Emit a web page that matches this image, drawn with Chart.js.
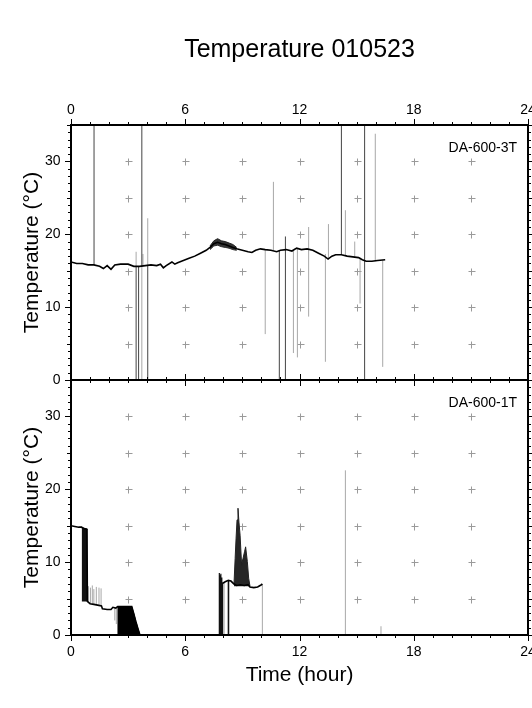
<!DOCTYPE html>
<html>
<head>
<meta charset="utf-8">
<script src="https://cdn.jsdelivr.net/npm/chart.js@4.4.1/dist/chart.umd.min.js"></script>
<style>
  html, body { margin: 0; padding: 0; background: #fff; }
  canvas { display: block; }
</style>
</head>
<body>
<canvas id="chartTemp" width="532" height="708"></canvas>
<script>
// DA-600-3T (upper panel): main trace, hours / degrees C
const topHours = [0, 0.3, 0.6, 0.9, 1.2, 1.5, 1.7, 1.9, 2.1, 2.3, 2.6, 3.0, 3.3, 3.6, 3.9, 4.2, 4.5, 4.7, 4.85, 5.0,
  5.3, 5.45, 5.6, 5.9, 6.2, 6.5, 6.8, 7.1, 7.3, 7.5, 7.7, 7.9, 8.1, 8.3, 8.5, 8.7,
  9.0, 9.3, 9.5, 9.7, 9.95, 10.2, 10.5, 10.8, 11.0, 11.3, 11.6, 11.85, 12.1, 12.4, 12.7, 13.0, 13.3, 13.5,
  13.7, 13.9, 14.2, 14.5, 14.8, 15.1, 15.3, 15.5, 15.8, 16.1, 16.5];
const topTemps = [16.2, 16.0, 16.0, 15.8, 15.8, 15.6, 15.3, 15.7, 15.2, 15.8, 15.9, 15.9, 15.6, 15.6, 15.7, 15.8, 15.7, 15.9, 15.4, 15.7,
  16.2, 15.9, 16.1, 16.4, 16.7, 17.0, 17.4, 17.8, 18.2, 18.7, 18.9, 18.7, 18.6, 18.4, 18.2, 18.0,
  17.8, 17.6, 17.5, 17.8, 18.0, 17.9, 17.8, 17.6, 17.8, 17.9, 17.7, 18.1, 17.9, 18.0, 17.8, 17.4, 17.0, 16.6,
  17.0, 17.2, 17.2, 17.0, 16.9, 16.8, 16.5, 16.3, 16.3, 16.4, 16.5];
// noisy stretch around the afternoon peak: upper / lower edge
const fuzzHours = [7.3, 7.5, 7.7, 7.9, 8.1, 8.3, 8.5, 8.7];
const fuzzUpper = [18.4, 19.1, 19.4, 19.1, 19.0, 18.8, 18.6, 18.2];
const fuzzLower = [17.9, 18.4, 18.5, 18.3, 18.2, 18.1, 17.9, 17.8];
// glitches: [hour, low, high]
const topSpikesDark = [[1.21, 15.8, 35], [3.42, 0, 15.6], [3.55, 0, 15.6], [3.72, 15.6, 35], [4.03, 0, 15.7],
  [10.94, 0, 17.8], [11.26, 0, 19.7], [14.2, 17.2, 35], [15.42, 0, 35]];
const topSpikesLight = [[3.42, 15.6, 17.6], [3.72, 0, 15.6], [3.78, 15.6, 17.3], [4.03, 15.7, 22.2], [10.2, 6.3, 17.9],
  [10.63, 17.8, 27.2], [11.68, 3.7, 17.8], [11.89, 3.1, 18.0], [12.48, 8.7, 21.0], [13.36, 2.5, 17.3],
  [13.52, 16.6, 21.4], [14.41, 17.1, 23.3], [14.9, 16.9, 19.0], [15.18, 10.5, 16.8], [15.98, 16.3, 33.8],
  [16.37, 1.8, 16.4]];

// DA-600-1T (lower panel)
const botHours = [0, 0.2, 0.4, 0.55, 0.7, 0.84, 0.86, 1.0, 1.2, 1.4, 1.6, 1.65, 1.9, 2.1, 2.2, 2.35, 2.45, 3.19, 3.3, 3.4,
  3.5, 3.62, 3.7, 7.97, 8.1, 8.26, 8.4, 8.56, 8.7, 8.9, 9.1, 9.3, 9.4, 9.6, 9.8, 10.0, 10.05];
const botTemps = [15.0, 14.9, 14.8, 14.8, 14.6, 14.5, 4.6, 4.3, 4.2, 4.1, 4.0, 3.6, 3.5, 3.5, 3.8, 3.7, 3.9, 3.9, 2.9, 1.9,
  1.0, 0, null, 7.1, 7.3, 7.5, 7.4, 7.0, 6.8, 6.9, 6.8, 6.9, 6.6, 6.5, 6.6, 6.9, 7.0];
// dense noisy blocks (upper edge + floor)
const band1Hours = [0.56, 0.62, 0.7, 0.78, 0.86];
const band1Temps = [14.8, 14.7, 14.6, 14.6, 14.5];
const band1Floor = 4.6;
const band2Hours = [2.43, 3.19, 3.3, 3.4, 3.5, 3.62];
const band2Temps = [3.9, 3.9, 2.9, 1.9, 1.0, 0];
const peakHours = [8.56, 8.62, 8.67, 8.72, 8.77, 8.82, 8.88, 8.96, 9.05, 9.12, 9.17, 9.26, 9.33, 9.4];
const peakTemps = [7.0, 10.5, 13.3, 15.8, 17.4, 15.5, 13.7, 9.6, 10.7, 11.5, 12.1, 10.1, 7.8, 6.7];
const peakFloor = 6.7;
const botSpikesDark = [[7.79, 0, 8.5], [7.83, 0, 8.2], [7.87, 0, 8.4], [7.92, 0, 7.9], [7.96, 0, 7.2],
  [8.26, 0, 7.5], [8.28, 0, 7.5]];
const botSpikesLight = [[0.92, 4.4, 6.7], [1.02, 4.3, 6.5], [1.12, 4.3, 6.8], [1.2, 4.2, 6.3], [1.33, 4.1, 6.6],
  [1.47, 4.1, 6.5], [1.58, 4.0, 6.4], [2.3, 2.0, 3.8], [2.38, 1.5, 3.8], [8.04, 0, 7.2], [10.05, 0, 7.0],
  [14.41, 0, 22.6], [16.28, 0, 1.2]];

const panelNames = ['DA-600-3T', 'DA-600-1T'];

function pairs(hours, temps) {
  return hours.map((h, i) => ({ x: h, y: temps[i] }));
}
function segments(list) {
  const pts = [];
  list.forEach(s => {
    pts.push({ x: s[0], y: s[1] }, { x: s[0], y: s[2] }, { x: s[0], y: null });
  });
  return pts;
}

const fontFamily = "'Liberation Sans', Arial, Helvetica, sans-serif";
Chart.defaults.font.family = fontFamily;
Chart.defaults.color = '#000';

// frame, ticks, grid crosses and panel names
const panelFrame = {
  id: 'panelFrame',
  beforeDatasetsDraw(chart) {
    const { ctx } = chart;
    const x = chart.scales.x;
    ctx.save();
    ctx.strokeStyle = '#9a9a9a';
    ctx.lineWidth = 1;
    [chart.scales.yTop, chart.scales.yBot].forEach(y => {
      for (let h = 3; h < 24; h += 3) {
        for (let t = 5; t < 35; t += 5) {
          const px = Math.round(x.getPixelForValue(h)) + 0.5;
          const py = Math.round(y.getPixelForValue(t)) + 0.5;
          ctx.beginPath();
          ctx.moveTo(px - 3, py); ctx.lineTo(px + 4, py);
          ctx.moveTo(px, py - 3); ctx.lineTo(px, py + 4);
          ctx.stroke();
        }
      }
    });
    ctx.restore();
  },
  afterDatasetsDraw(chart) {
    const { ctx } = chart;
    const x = chart.scales.x;
    ctx.save();
    ctx.strokeStyle = '#000';
    [chart.scales.yTop, chart.scales.yBot].forEach((y, i) => {
      const top = y.getPixelForValue(35), bottom = y.getPixelForValue(0);
      ctx.lineWidth = 1;
      ctx.beginPath();
      for (let h = 0; h <= 24; h++) {
        const px = Math.round(x.getPixelForValue(h)) + 0.5;
        const len = h % 6 === 0 ? 6 : 3;
        ctx.moveTo(px, top); ctx.lineTo(px, top - len);
        ctx.moveTo(px, bottom); ctx.lineTo(px, bottom + len);
      }
      for (let t = 0; t <= 35; t++) {
        const py = Math.round(y.getPixelForValue(t)) + 0.5;
        const len = t % 10 === 0 ? 6 : (t % 5 === 0 ? 4 : 3);
        ctx.moveTo(x.left, py); ctx.lineTo(x.left - len, py);
        ctx.moveTo(x.right, py); ctx.lineTo(x.right + len, py);
      }
      ctx.stroke();
      ctx.lineWidth = 2;
      ctx.strokeRect(x.left, top, x.right - x.left, bottom - top);
      ctx.fillStyle = '#000';
      ctx.font = '14px ' + fontFamily;
      ctx.textAlign = 'right';
      ctx.textBaseline = 'alphabetic';
      ctx.fillText(panelNames[i], x.right - 11, top + 27);
    });
    ctx.restore();
  }
};

const tickFont = { size: 14 };
function xAxis(position, height, pad, title) {
  return {
    type: 'linear', position: position, min: 0, max: 24,
    ticks: { stepSize: 6, padding: pad, font: tickFont, maxRotation: 0, autoSkip: false },
    grid: { display: false, drawTicks: false },
    border: { display: false },
    title: title ? { display: true, text: title, font: { size: 21 }, padding: { top: 0, bottom: 20.5 } } : { display: false },
    afterFit: s => { s.height = height; s.paddingLeft = 0; s.paddingRight = 0; }
  };
}
function yAxis(weight) {
  return {
    type: 'linear', position: 'left', stack: 'panels', stackWeight: 1, weight: weight,
    min: 0, max: 35,
    ticks: { stepSize: 10, includeBounds: false, padding: 10.5, font: tickFont },
    grid: { display: false, drawTicks: false },
    border: { display: false },
    title: { display: true, text: 'Temperature (°C)', font: { size: 21 }, padding: { top: 19.4, bottom: 0 } },
    afterFit: s => { s.width = 71; s.paddingTop = 0; s.paddingBottom = 0; }
  };
}

const line = (data, yAxisID, color, width, extra) => Object.assign({
  data: data, yAxisID: yAxisID, xAxisID: 'x', borderColor: color, borderWidth: width,
  pointRadius: 0, tension: 0, spanGaps: false, fill: false
}, extra || {});

new Chart(document.getElementById('chartTemp').getContext('2d'), {
  type: 'line',
  data: {
    datasets: [
      line(pairs(topHours, topTemps), 'yTop', '#000', 1.6),
      line(pairs(fuzzHours, fuzzUpper), 'yTop', '#222', 1, { fill: '+1', backgroundColor: '#333' }),
      line(pairs(fuzzHours, fuzzLower), 'yTop', '#222', 1),
      line(pairs(botHours, botTemps), 'yBot', '#000', 1.6),
      line(segments(topSpikesDark), 'yTop', '#444', 1),
      line(segments(botSpikesDark), 'yBot', '#111', 1.2),
      line(pairs(band1Hours, band1Temps), 'yBot', '#111', 1, { fill: { value: band1Floor }, backgroundColor: '#111' }),
      line(pairs(band2Hours, band2Temps), 'yBot', '#000', 1, { fill: { value: 0 }, backgroundColor: '#000' }),
      line(pairs(peakHours, peakTemps), 'yBot', '#222', 1, { fill: { value: peakFloor }, backgroundColor: '#262626' }),
      line(segments(topSpikesLight), 'yTop', '#a8a8a8', 1),
      line(segments(botSpikesLight), 'yBot', '#a8a8a8', 1)
    ]
  },
  options: {
    responsive: false,
    animation: false,
    layout: { padding: { left: 0, right: 4, top: 0, bottom: 0 } },
    plugins: {
      legend: { display: false },
      tooltip: { enabled: false },
      title: {
        display: true, text: 'Temperature 010523', fullSize: false, color: '#000',
        font: { size: 25, weight: 'normal' }, padding: { top: 35, bottom: 0 }
      }
    },
    scales: {
      x: xAxis('bottom', 73, 8.6, 'Time (hour)'),
      x2: xAxis('top', 60, 6.3, null),
      yTop: yAxis(1),
      yBot: yAxis(0)
    }
  },
  plugins: [panelFrame]
});
</script>
</body>
</html>
